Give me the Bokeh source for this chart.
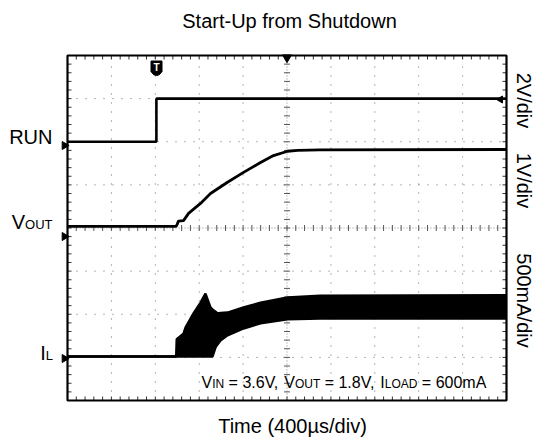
import numpy as np
from bokeh.plotting import figure
from bokeh.models import Range1d
from bokeh.core.properties import value
from bokeh.embed import file_html
from bokeh.resources import INLINE

# ---------------- data ----------------
TIME_PER_DIV_US = 400            # 400 µs/div
N_XDIV = 10
N_YDIV = 8

title_text = "Start-Up from Shutdown"
xlabel_text = "Time (400µs/div)"
scale_labels = ["2V/div", "1V/div", "500mA/div"]

# RUN pin (2 V/div)
run_t_us = [0, 810, 810, 4000]
run_volts = [0.0, 0.0, 2.0, 2.0]

# output voltage (1 V/div)
vout_t_us = [0, 990, 1000, 1011, 1057, 1103, 1212, 1303, 1458, 1604, 1759, 1877, 2005, 2096, 2300, 4000]
vout_volts = [0.0, 0.0, 0.05, 0.12, 0.13, 0.30, 0.53, 0.76, 1.02, 1.25, 1.48, 1.64, 1.74, 1.76, 1.77, 1.78]

# inductor current ripple envelope (500 mA/div)
il_t_us = [0, 990, 995, 1057, 1075, 1148, 1212, 1257, 1303, 1321, 1349, 1367, 1394, 1458, 1604, 1759, 2005, 2300, 4000]
il_upper_ma = [0, 0, 200, 265, 335, 500, 625, 730, 570, 545, 520, 500, 505, 510, 570, 625, 685, 705, 710]
il_lower_ma = [0, 0, 0, 0, 0, 0, 0, 0, 0, 0, 105, 140, 185, 245, 325, 385, 430, 440, 440]

# conditions text pieces: (text, is_subscript)
cond_pieces = [("V", False), ("IN", True), (" = 3.6V, ", False), ("V", False), ("OUT", True),
               (" = 1.8V, ", False), ("I", False), ("LOAD", True), (" = 600mA", False)]

# ---------------- channel settings ----------------
RUN_V_PER_DIV, RUN_OFFSET = 2.0, 6.0
VOUT_V_PER_DIV, VOUT_OFFSET = 1.0, 4.04
IL_MA_PER_DIV, IL_OFFSET = 500.0, 1.02

# ---------------- layout (pixels) ----------------
W, H = 541, 439
PL, PR, PT, PB = 67, 506, 55, 400
T_END = TIME_PER_DIV_US * N_XDIV
US_PER_PX = T_END / (PR - PL)
DIV_PER_PX = N_YDIV / (PB - PT)


def X(px):
    return (px - PL) * US_PER_PX


def Y(py):
    return (PB - py) * DIV_PER_PX


FONT = value("Liberation Sans")

p = figure(width=W, height=H, output_backend="svg", toolbar_location=None,
           x_range=Range1d(X(0), X(W)), y_range=Range1d(Y(H), Y(0)),
           x_axis_location=None, y_axis_location=None, min_border=0)
p.outline_line_color = None
p.background_fill_color = "white"
p.border_fill_color = "white"
p.grid.grid_line_color = None

# ---------------- graticule ----------------
GRID_C = "#6a6a6a"
vx = [TIME_PER_DIV_US * k for k in range(1, N_XDIV) if k != N_XDIV // 2]
p.segment(x0=vx, y0=[0] * len(vx), x1=vx, y1=[N_YDIV] * len(vx),
          line_color=GRID_C, line_width=1, line_dash=value("1 8"))
hy = [k for k in range(1, N_YDIV) if k != N_YDIV // 2]
p.segment(x0=[0] * len(hy), y0=hy, x1=[T_END] * len(hy), y1=hy,
          line_color=GRID_C, line_width=1, line_dash=value("1 8"))
# centre lines
p.segment(x0=[T_END / 2, 0], y0=[0, N_YDIV / 2], x1=[T_END / 2, T_END], y1=[N_YDIV, N_YDIV / 2],
          line_color="#8a8a8a", line_width=1, line_dash=value("1 2"))
# minor ticks every 0.2 div on centre lines and frame
xt = [TIME_PER_DIV_US / 5 * k for k in range(1, N_XDIV * 5)]
yt = [0.2 * k for k in range(1, N_YDIV * 5)]
tx = 3 * US_PER_PX
ty = 3 * DIV_PER_PX
p.segment(x0=xt, y0=[N_YDIV / 2 - ty] * len(xt), x1=xt, y1=[N_YDIV / 2 + ty] * len(xt),
          line_color="#555555", line_width=1)
p.segment(x0=[T_END / 2 - tx] * len(yt), y0=yt, x1=[T_END / 2 + tx] * len(yt), y1=yt,
          line_color="#555555", line_width=1)
e = 4
p.segment(x0=xt, y0=[0] * len(xt), x1=xt, y1=[e * DIV_PER_PX] * len(xt), line_color="#333333", line_width=1)
p.segment(x0=xt, y0=[N_YDIV] * len(xt), x1=xt, y1=[N_YDIV - e * DIV_PER_PX] * len(xt), line_color="#333333", line_width=1)
p.segment(x0=[0] * len(yt), y0=yt, x1=[e * US_PER_PX] * len(yt), y1=yt, line_color="#333333", line_width=1)
p.segment(x0=[T_END] * len(yt), y0=yt, x1=[T_END - e * US_PER_PX] * len(yt), y1=yt, line_color="#333333", line_width=1)
p.quad(left=[0], right=[T_END], bottom=[0], top=[N_YDIV], fill_color=None,
       line_color="black", line_width=2.2)

# ---------------- traces ----------------
run_y = [RUN_OFFSET + v / RUN_V_PER_DIV for v in run_volts]
vout_y = [VOUT_OFFSET + v / VOUT_V_PER_DIV for v in vout_volts]
il_hi_y = [IL_OFFSET + i / IL_MA_PER_DIV for i in il_upper_ma]
il_lo_y = [IL_OFFSET + i / IL_MA_PER_DIV for i in il_lower_ma]

p.line(run_t_us, run_y, line_color="black", line_width=2.6)
p.line(vout_t_us, vout_y, line_color="black", line_width=2.8)
p.varea(x=il_t_us, y1=il_lo_y, y2=il_hi_y, fill_color="black")
p.line(il_t_us, il_hi_y, line_color="black", line_width=2.4)
p.line(il_t_us, il_lo_y, line_color="black", line_width=2.4)

# ---------------- scope markers ----------------
p.scatter(x=[X(64)] * 3, y=[Y(145), Y(236), Y(358)], marker="triangle", size=8,
          angle=-np.pi / 2, fill_color="black", line_color="black")
p.scatter(x=[T_END / 2], y=[Y(57)], marker="triangle", size=9, angle=np.pi,
          fill_color="black", line_color="black")
p.scatter(x=[X(500)], y=[Y(99)], marker="triangle", size=7, angle=np.pi / 2,
          fill_color="black", line_color="black")
p.scatter(x=[X(156)], y=[Y(66)], marker="square", size=11, fill_color="black", line_color="black")
p.scatter(x=[X(156)], y=[Y(70)], marker="circle", size=10, fill_color="black", line_color="black")
p.text(x=[X(156)], y=[Y(67)], text=["T"], text_color="white", text_font=FONT,
       text_font_style="bold", text_font_size=value("10px"), text_align="center", text_baseline="middle")


# ---------------- texts ----------------
def put(txt, px, base_py, fs, align="left"):
    """Draw text so its alphabetic baseline lands on base_py (uses middle anchoring)."""
    p.text(x=[X(px)], y=[Y(base_py - 0.36 * fs)], text=[txt], text_font=FONT,
           text_font_size=value(f"{fs}px"), text_align=align, text_baseline="middle",
           text_color="black")


put(title_text, 289, 27.5, 20, "center")
put(xlabel_text, 292, 433, 20, "center")

# channel names on the left (right-aligned near x=52px)
put("RUN", 52, 144, 20, "right")
put("OUT", 52, 229, 13, "right")
put("V", 24.5, 229, 20, "right")
put("L", 52.5, 360, 13, "right")
put("I", 45.3, 360, 20, "right")

# scale labels on the right, rotated
p.text(x=[X(523)] * 3, y=[Y(100), Y(180), Y(300)], text=scale_labels, text_font=FONT,
       text_font_size=value("20px"), text_align="center", text_baseline="middle",
       angle=-np.pi / 2, text_color="black")

# test conditions line, laid out piece by piece with Arial advance widths
ADV = {" ": 278, "=": 584, ".": 278, ",": 278, "V": 667, "m": 833, "A": 667, "I": 278,
       "N": 722, "O": 778, "U": 722, "T": 611, "L": 556, "D": 722}
for d in "0123456789":
    ADV[d] = 556
MAIN_PX, SUB_PX = 16, 12
cx = 201.0
for txt, sub in cond_pieces:
    fs = SUB_PX if sub else MAIN_PX
    lead = len(txt) - len(txt.lstrip(" "))
    shown = txt.strip(" ")
    put(shown, cx + lead * ADV[" "] / 1000 * fs, 388, fs, "left")
    cx += sum(ADV[c] for c in txt) / 1000 * fs

open("out.html", "w").write(file_html(p, INLINE))
